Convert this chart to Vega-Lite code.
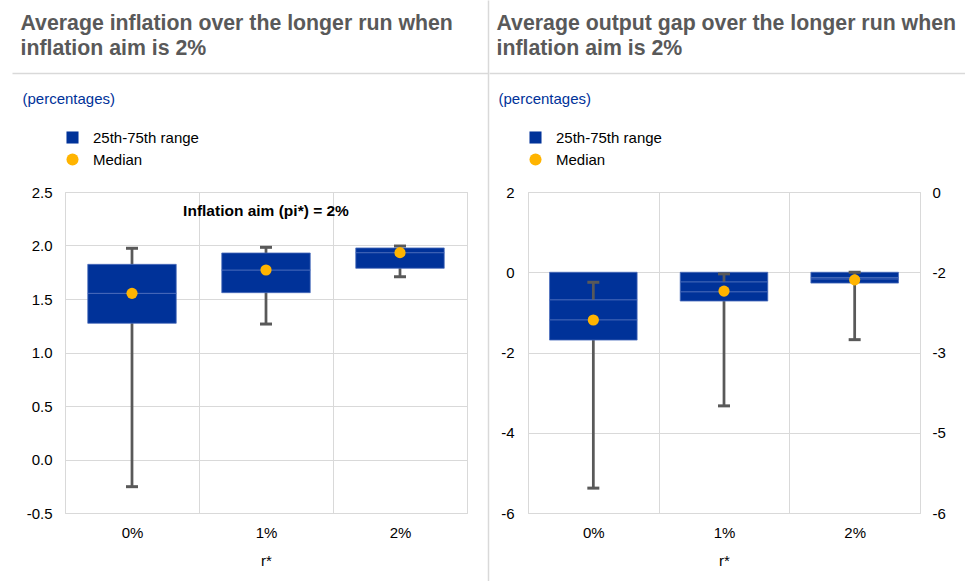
{
  "$schema": "https://vega.github.io/schema/vega-lite/v6.json",
  "padding": {"left": 12, "top": 0, "right": 0, "bottom": 0},
  "background": "white",
  "config": {
    "font": "Liberation Sans",
    "view": {"stroke": "#d9d9d9", "strokeWidth": 1},
    "axis": {"labelFont": "Liberation Sans", "titleFont": "Liberation Sans", "labelColor": "#000000", "titleColor": "#000000", "labelFontSize": 15, "titleFontSize": 15, "titleFontWeight": "normal", "gridColor": "#d9d9d9", "gridWidth": 1, "domain": false, "ticks": false},
    "legend": {"labelFont": "Liberation Sans", "labelFontSize": 15, "labelColor": "#000000"}
  },
  "datasets": {
    "leftBox": [
      {"r": "0%", "v": 1.273, "v2": 1.553}, {"r": "0%", "v": 1.553, "v2": 1.824},
      {"r": "1%", "v": 1.559, "v2": 1.771}, {"r": "1%", "v": 1.771, "v2": 1.93},
      {"r": "2%", "v": 1.787, "v2": 1.933}, {"r": "2%", "v": 1.933, "v2": 1.977}
    ],
    "leftWhisk": [
      {"r": "0%", "v": -0.254, "v2": 1.974},
      {"r": "1%", "v": 1.266, "v2": 1.983},
      {"r": "2%", "v": 1.708, "v2": 1.995}
    ],
    "leftCap": [
      {"r": "0%", "v": -0.254}, {"r": "0%", "v": 1.974},
      {"r": "1%", "v": 1.266}, {"r": "1%", "v": 1.983},
      {"r": "2%", "v": 1.708}, {"r": "2%", "v": 1.995}
    ],
    "leftMed": [
      {"r": "0%", "v": 1.553}, {"r": "1%", "v": 1.771}, {"r": "2%", "v": 1.933}
    ],
    "leftNote": [
      {"r": "1%", "v": 2.32, "label": "Inflation aim (pi*) = 2%"}
    ],
    "rightBack": [
      {"r": "0%", "v": -0.69, "v2": 0}, {"r": "1%", "v": -0.243, "v2": 0}, {"r": "2%", "v": -0.13, "v2": 0}
    ],
    "rightFront": [
      {"r": "0%", "v": -1.19, "v2": -0.69}, {"r": "0%", "v": -1.69, "v2": -1.19},
      {"r": "1%", "v": -0.49, "v2": -0.243}, {"r": "1%", "v": -0.717, "v2": -0.49},
      {"r": "2%", "v": -0.17, "v2": -0.13}, {"r": "2%", "v": -0.27, "v2": -0.17}
    ],
    "rightWhisk": [
      {"r": "0%", "v": -5.38, "v2": -0.25},
      {"r": "1%", "v": -3.33, "v2": -0.04},
      {"r": "2%", "v": -1.68, "v2": 0}
    ],
    "rightCap": [
      {"r": "0%", "v": -5.38}, {"r": "0%", "v": -0.25},
      {"r": "1%", "v": -3.33}, {"r": "1%", "v": -0.04},
      {"r": "2%", "v": -1.68}, {"r": "2%", "v": 0}
    ],
    "rightMed": [
      {"r": "0%", "v": -1.19}, {"r": "1%", "v": -0.47}, {"r": "2%", "v": -0.19}
    ],
    "blank": [{"k": 0}, {"k": 1}],
    "none": []
  },
  "spacing": 0,
  "resolve": {"scale": {"color": "independent", "shape": "independent"}, "legend": {"color": "independent", "shape": "independent"}},
  "hconcat": [
    {
      "spacing": 18,
      "resolve": {"scale": {"color": "independent", "shape": "independent"}, "legend": {"color": "independent", "shape": "independent"}},
      "vconcat": [
        {
          "width": 476,
          "height": 73,
          "view": {"stroke": null},
          "title": {"text": ["Average inflation over the longer run when", "inflation aim is 2%"], "anchor": "start", "frame": "group", "dx": 8.5, "fontSize": 21.3, "fontWeight": "bold", "color": "#595959", "font": "Liberation Sans", "lineHeight": 25, "offset": -59},
          "data": {"name": "blank"},
          "mark": {"type": "point", "opacity": 0, "size": 0, "strokeWidth": 0},
          "encoding": {
            "x": {"field": "k", "type": "quantitative", "scale": {"domain": [0, 1], "nice": false}, "axis": {"domain": true, "domainColor": "#d9d9d9", "domainWidth": 1.5, "labels": false, "ticks": false, "grid": false, "title": null}}
          }
        },
        {
          "spacing": 0,
          "resolve": {"scale": {"color": "independent", "shape": "independent"}, "legend": {"color": "independent", "shape": "independent"}},
          "hconcat": [
            {
              "width": 1,
              "height": 1,
              "view": {"stroke": null},
              "data": {"name": "none"},
              "mark": {"type": "point", "opacity": 0, "size": 0},
              "encoding": {}
            },
            {
              "width": 402,
              "height": 321,
              "title": {"text": "(percentages)", "anchor": "start", "frame": "bounds", "dx": 8.5, "fontSize": 15, "fontWeight": "normal", "color": "#003299", "font": "Liberation Sans", "offset": 23},
              "encoding": {
                "x": {"field": "r", "type": "nominal", "scale": {"domain": ["0%", "1%", "2%"], "paddingInner": 0, "paddingOuter": 0},
                  "axis": {"title": "r*", "labelAngle": 0, "grid": true, "tickBand": "extent", "labelPadding": 12, "titlePadding": 13}},
                "y": {"field": "v", "type": "quantitative", "scale": {"domain": [-0.5, 2.5], "nice": false, "zero": false},
                  "axis": {"values": [-0.5, 0, 0.5, 1, 1.5, 2, 2.5], "labelExpr": "replace(format(datum.value, '.1f'), '\u2212', '-')", "grid": true, "labelPadding": 13, "title": "\u00a0", "titleAngle": 0, "titleX": -51, "titleY": 0, "titleAlign": "left", "titleBaseline": "top"}}
              },
              "layer": [
                {
                  "data": {"name": "leftWhisk"},
                  "mark": {"type": "rule", "color": "#595959", "strokeWidth": 2.75, "opacity": 1},
                  "encoding": {"y2": {"field": "v2"}}
                },
                {
                  "data": {"name": "leftCap"},
                  "mark": {"type": "tick", "color": "#595959", "size": 12, "thickness": 3, "opacity": 1},
                  "encoding": {}
                },
                {
                  "data": {"name": "leftBox"},
                  "mark": {"type": "bar", "width": {"band": 0.66}, "stroke": "#4a6cbb", "strokeWidth": 0.8, "opacity": 1},
                  "encoding": {
                    "y2": {"field": "v2"},
                    "color": {"datum": "25th-75th range", "type": "nominal",
                      "scale": {"domain": ["25th-75th range", "Median"], "range": ["#003299", "#ffb400"]},
                      "legend": {"orient": "top", "direction": "vertical", "title": null, "rowPadding": 6, "labelOffset": 13, "offset": 24, "padding": 0, "symbolSize": 145, "symbolStrokeWidth": 0, "symbolOpacity": 1}}
                  }
                },
                {
                  "data": {"name": "leftMed"},
                  "mark": {"type": "point", "filled": true, "size": 125, "opacity": 1, "strokeWidth": 0},
                  "encoding": {
                    "color": {"datum": "Median", "type": "nominal"},
                    "shape": {"datum": "Median", "type": "nominal",
                      "scale": {"domain": ["25th-75th range", "Median"], "range": ["square", "circle"]},
                      "legend": {"orient": "top", "direction": "vertical", "title": null, "rowPadding": 6, "labelOffset": 13, "offset": 24, "padding": 0, "symbolSize": 145, "symbolStrokeWidth": 0, "symbolOpacity": 1}}
                  }
                },
                {
                  "data": {"name": "leftNote"},
                  "mark": {"type": "text", "fontWeight": "bold", "fontSize": 15.5, "color": "#000000", "font": "Liberation Sans"},
                  "encoding": {"text": {"field": "label"}}
                }
              ]
            }
          ]
        }
      ]
    },
    {
      "width": 1,
      "height": 581,
      "view": {"stroke": null},
      "data": {"name": "blank"},
      "mark": {"type": "point", "opacity": 0, "size": 0, "strokeWidth": 0},
      "encoding": {
        "y": {"field": "k", "type": "quantitative", "scale": {"domain": [0, 1], "nice": false}, "axis": {"domain": true, "domainColor": "#d9d9d9", "domainWidth": 1.5, "labels": false, "ticks": false, "grid": false, "title": null}}
      }
    },
    {
      "spacing": 18,
      "resolve": {"scale": {"color": "independent", "shape": "independent"}, "legend": {"color": "independent", "shape": "independent"}},
      "vconcat": [
        {
          "width": 476,
          "height": 73,
          "view": {"stroke": null},
          "title": {"text": ["Average output gap over the longer run when", "inflation aim is 2%"], "anchor": "start", "frame": "group", "dx": 7.5, "fontSize": 21.3, "fontWeight": "bold", "color": "#595959", "font": "Liberation Sans", "lineHeight": 25, "offset": -59},
          "data": {"name": "blank"},
          "mark": {"type": "point", "opacity": 0, "size": 0, "strokeWidth": 0},
          "encoding": {
            "x": {"field": "k", "type": "quantitative", "scale": {"domain": [0, 1], "nice": false}, "axis": {"domain": true, "domainColor": "#d9d9d9", "domainWidth": 1.5, "labels": false, "ticks": false, "grid": false, "title": null}}
          }
        },
        {
          "spacing": 0,
          "resolve": {"scale": {"color": "independent", "shape": "independent"}, "legend": {"color": "independent", "shape": "independent"}},
          "hconcat": [
            {
              "width": 1,
              "height": 1,
              "view": {"stroke": null},
              "data": {"name": "none"},
              "mark": {"type": "point", "opacity": 0, "size": 0},
              "encoding": {}
            },
            {
              "width": 392,
              "height": 321,
              "title": {"text": "(percentages)", "anchor": "start", "frame": "bounds", "dx": 7.5, "fontSize": 15, "fontWeight": "normal", "color": "#003299", "font": "Liberation Sans", "offset": 23},
              "resolve": {"scale": {"y": "independent"}},
              "layer": [
                {
                  "encoding": {
                    "x": {"field": "r", "type": "nominal", "scale": {"domain": ["0%", "1%", "2%"], "paddingInner": 0, "paddingOuter": 0},
                      "axis": {"title": "r*", "labelAngle": 0, "grid": true, "tickBand": "extent", "labelPadding": 12, "titlePadding": 13}},
                    "y": {"field": "v", "type": "quantitative", "scale": {"domain": [-6, 2], "nice": false, "zero": false},
                      "axis": {"values": [-6, -4, -2, 0, 2], "labelExpr": "replace(format(datum.value, '.0f'), '\u2212', '-')", "grid": true, "labelPadding": 14, "title": "\u00a0", "titleAngle": 0, "titleX": -37, "titleY": 0, "titleAlign": "left", "titleBaseline": "top"}}
                  },
                  "layer": [
                    {
                      "data": {"name": "rightBack"},
                      "mark": {"type": "bar", "width": {"band": 0.67}, "stroke": "#4a6cbb", "strokeWidth": 0.8, "opacity": 1},
                      "encoding": {
                        "y2": {"field": "v2"},
                        "color": {"datum": "25th-75th range", "type": "nominal",
                          "scale": {"domain": ["25th-75th range", "Median"], "range": ["#003299", "#ffb400"]},
                          "legend": {"orient": "top", "direction": "vertical", "title": null, "rowPadding": 6, "labelOffset": 13, "offset": 24, "padding": 0, "symbolSize": 145, "symbolStrokeWidth": 0, "symbolOpacity": 1}}
                      }
                    },
                    {
                      "data": {"name": "rightWhisk"},
                      "mark": {"type": "rule", "color": "#595959", "strokeWidth": 2.75, "opacity": 1},
                      "encoding": {"y2": {"field": "v2"}}
                    },
                    {
                      "data": {"name": "rightCap"},
                      "mark": {"type": "tick", "color": "#595959", "size": 12, "thickness": 3, "opacity": 1},
                      "encoding": {}
                    },
                    {
                      "data": {"name": "rightFront"},
                      "mark": {"type": "bar", "width": {"band": 0.67}, "stroke": "#4a6cbb", "strokeWidth": 0.8, "opacity": 1},
                      "encoding": {"y2": {"field": "v2"}, "color": {"datum": "25th-75th range", "type": "nominal"}}
                    },
                    {
                      "data": {"name": "rightMed"},
                      "mark": {"type": "point", "filled": true, "size": 125, "opacity": 1, "strokeWidth": 0},
                      "encoding": {
                        "color": {"datum": "Median", "type": "nominal"},
                        "shape": {"datum": "Median", "type": "nominal",
                          "scale": {"domain": ["25th-75th range", "Median"], "range": ["square", "circle"]},
                          "legend": {"orient": "top", "direction": "vertical", "title": null, "rowPadding": 6, "labelOffset": 13, "offset": 24, "padding": 0, "symbolSize": 145, "symbolStrokeWidth": 0, "symbolOpacity": 1}}
                      }
                    }
                  ]
                },
                {
                  "data": {"name": "rightMed"},
                  "mark": {"type": "point", "opacity": 0},
                  "encoding": {
                    "x": {"field": "r", "type": "nominal", "scale": {"domain": ["0%", "1%", "2%"], "paddingInner": 0, "paddingOuter": 0},
                      "axis": {"title": "r*", "labelAngle": 0, "grid": true, "tickBand": "extent", "labelPadding": 12, "titlePadding": 13}},
                    "y": {"field": "v", "type": "quantitative", "scale": {"domain": [-6, 0], "nice": false, "zero": false},
                      "axis": {"orient": "right", "values": [0, -1.5, -3, -4.5, -6], "labelExpr": "datum.value == -1.5 ? '-2' : datum.value == -4.5 ? '-5' : replace(format(datum.value, '.0f'), '\u2212', '-')", "grid": false, "labelPadding": 12, "title": null}}
                  }
                }
              ]
            }
          ]
        }
      ]
    }
  ]
}
